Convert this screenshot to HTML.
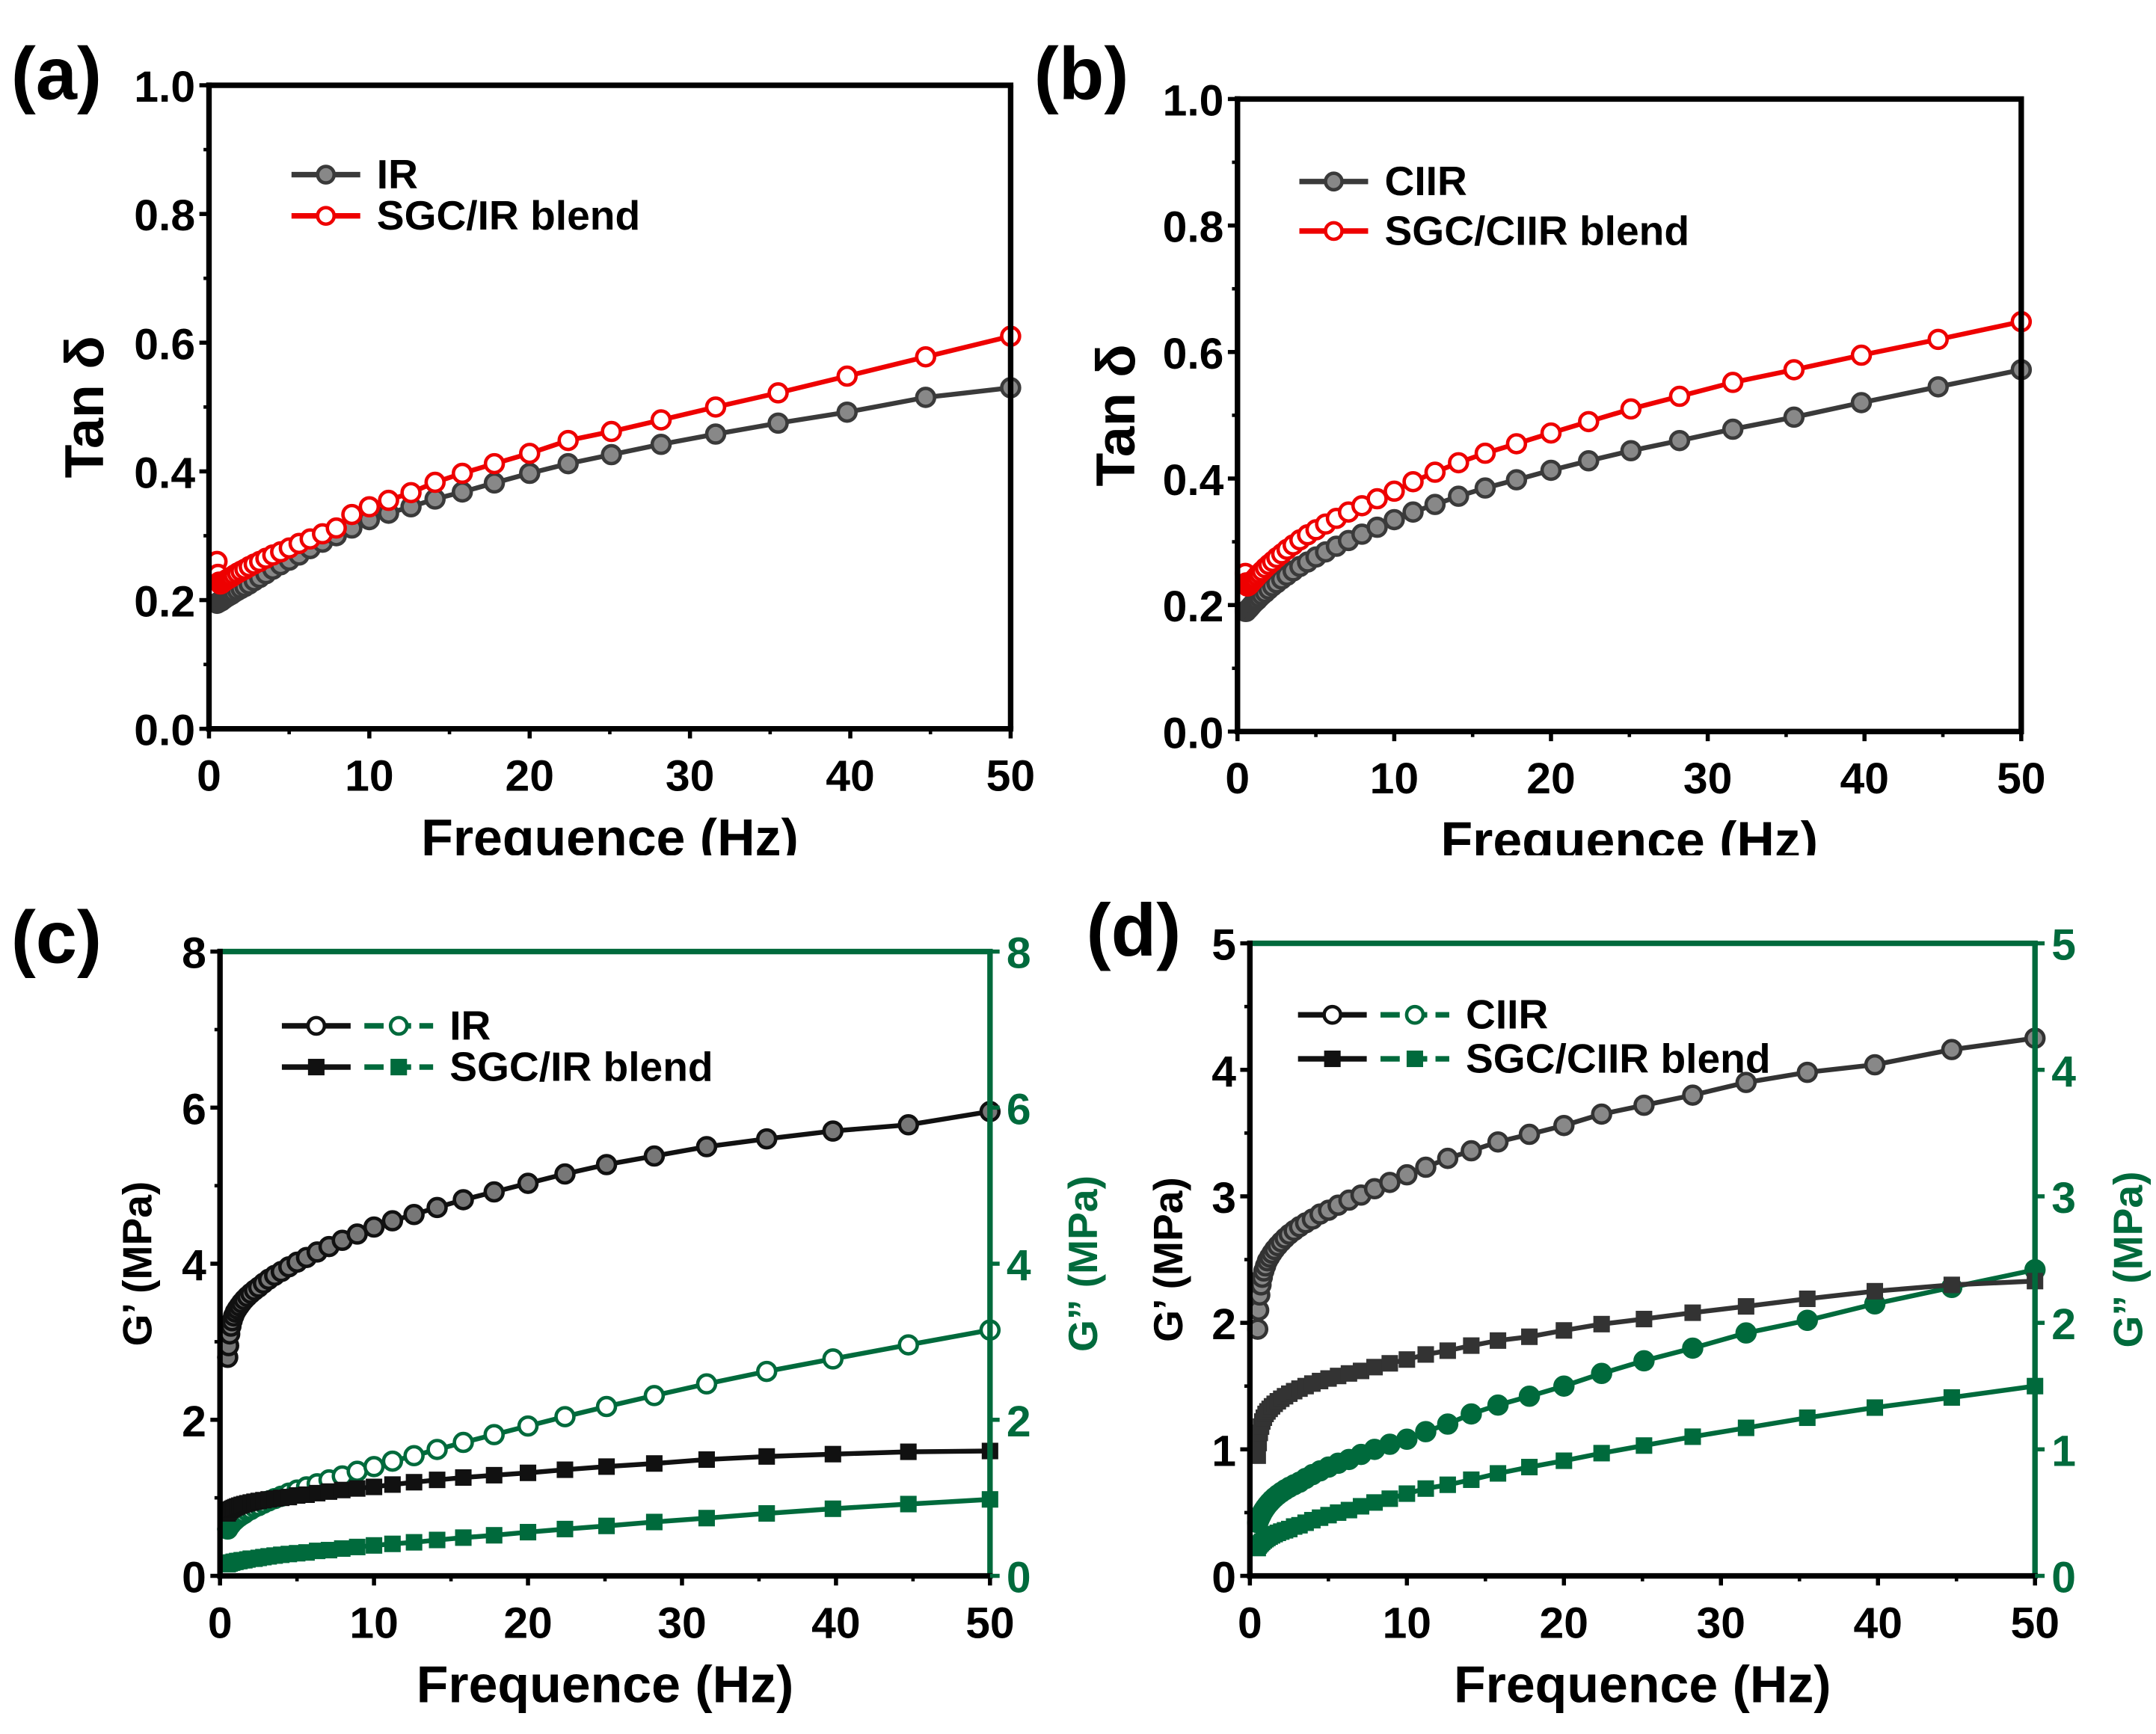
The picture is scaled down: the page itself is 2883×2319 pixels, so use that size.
<!DOCTYPE html>
<html><head><meta charset="utf-8"><style>
html,body{margin:0;padding:0;background:#fff;}
svg{display:block;font-family:"Liberation Sans",Arial,sans-serif;font-weight:bold;}
</style></head><body>
<svg id="fig" width="2883" height="2319" viewBox="0 0 1568 1261" preserveAspectRatio="none" xmlns="http://www.w3.org/2000/svg">
<rect x="0" y="0" width="1568" height="1261" fill="#fff"/>
</svg>
<script>
const freqs=[0.5,0.56,0.63,0.71,0.79,0.89,1,1.12,1.26,1.41,1.58,1.78,2,2.24,2.51,2.82,3.16,3.55,3.98,4.47,5.01,5.62,6.31,7.08,7.94,8.91,10,11.2,12.6,14.1,15.8,17.8,20,22.4,25.1,28.2,31.6,35.5,39.8,44.7,50];
const xTicks=[0,10,20,30,40,50];
const tanTicks=["0.0","0.2","0.4","0.6","0.8","1.0"];
const cTicks=[0,2,4,6,8];
const dTicks=[0,1,2,3,4,5];
const aIR=[0.195,0.196,0.197,0.198,0.199,0.201,0.203,0.205,0.207,0.209,0.212,0.215,0.218,0.221,0.225,0.23,0.235,0.241,0.248,0.255,0.262,0.27,0.28,0.29,0.3,0.312,0.325,0.335,0.345,0.357,0.368,0.382,0.397,0.412,0.426,0.442,0.458,0.475,0.492,0.515,0.53];
const aSGC=[0.26,0.24,0.228,0.225,0.226,0.228,0.23,0.232,0.234,0.236,0.239,0.242,0.245,0.248,0.252,0.256,0.26,0.265,0.27,0.275,0.281,0.288,0.295,0.303,0.312,0.333,0.345,0.355,0.367,0.383,0.397,0.412,0.428,0.448,0.462,0.48,0.5,0.522,0.548,0.578,0.61];
const bCIIR=[0.19,0.19,0.192,0.194,0.196,0.199,0.202,0.205,0.208,0.212,0.216,0.22,0.225,0.23,0.235,0.241,0.247,0.254,0.261,0.268,0.276,0.284,0.293,0.302,0.312,0.323,0.335,0.347,0.359,0.372,0.385,0.398,0.413,0.428,0.444,0.46,0.478,0.497,0.52,0.545,0.572];
const bSGC=[0.25,0.235,0.23,0.231,0.233,0.236,0.239,0.242,0.246,0.25,0.254,0.259,0.264,0.269,0.275,0.281,0.288,0.295,0.303,0.311,0.319,0.328,0.337,0.347,0.357,0.368,0.38,0.395,0.41,0.425,0.44,0.455,0.472,0.49,0.51,0.53,0.552,0.572,0.595,0.62,0.648];
const cGp1=[2.8,2.95,3.1,3.2,3.27,3.33,3.38,3.42,3.46,3.5,3.54,3.58,3.62,3.66,3.7,3.75,3.8,3.85,3.9,3.96,4.02,4.08,4.15,4.22,4.3,4.38,4.47,4.55,4.63,4.72,4.82,4.92,5.03,5.15,5.27,5.38,5.5,5.6,5.7,5.78,5.95];
const cGpp1=[0.6,0.62,0.64,0.66,0.68,0.7,0.72,0.74,0.76,0.78,0.8,0.83,0.85,0.88,0.9,0.93,0.96,0.99,1.02,1.06,1.1,1.14,1.18,1.23,1.28,1.34,1.4,1.47,1.54,1.62,1.71,1.81,1.92,2.04,2.17,2.31,2.46,2.62,2.78,2.96,3.15];
const cGp2=[0.8,0.82,0.84,0.85,0.86,0.87,0.88,0.89,0.9,0.91,0.92,0.93,0.94,0.95,0.96,0.97,0.98,0.99,1.0,1.01,1.03,1.04,1.06,1.08,1.1,1.12,1.14,1.17,1.2,1.23,1.26,1.29,1.32,1.36,1.4,1.44,1.49,1.53,1.56,1.59,1.6];
const cGpp2=[0.15,0.16,0.16,0.17,0.17,0.18,0.18,0.19,0.19,0.2,0.2,0.21,0.22,0.22,0.23,0.24,0.25,0.26,0.27,0.28,0.29,0.3,0.32,0.33,0.35,0.37,0.39,0.41,0.43,0.46,0.49,0.52,0.56,0.6,0.64,0.69,0.74,0.8,0.86,0.92,0.98];
const dGp1=[1.95,2.1,2.22,2.3,2.36,2.41,2.45,2.49,2.52,2.55,2.58,2.61,2.64,2.67,2.7,2.73,2.76,2.79,2.82,2.86,2.89,2.93,2.97,3.01,3.06,3.11,3.17,3.23,3.3,3.36,3.43,3.49,3.56,3.65,3.72,3.8,3.9,3.98,4.04,4.16,4.25];
const dGpp1=[0.42,0.44,0.46,0.48,0.5,0.52,0.54,0.56,0.58,0.6,0.62,0.64,0.66,0.68,0.7,0.72,0.74,0.77,0.8,0.83,0.86,0.89,0.92,0.96,1.0,1.04,1.08,1.14,1.2,1.28,1.35,1.42,1.5,1.6,1.7,1.8,1.92,2.02,2.15,2.28,2.42];
const dGp2=[0.95,1.05,1.13,1.18,1.22,1.25,1.28,1.3,1.32,1.34,1.36,1.38,1.4,1.42,1.44,1.46,1.48,1.5,1.52,1.54,1.56,1.58,1.6,1.62,1.65,1.68,1.71,1.75,1.78,1.82,1.86,1.89,1.94,1.99,2.03,2.08,2.13,2.19,2.25,2.3,2.33];
const dGpp2=[0.22,0.24,0.25,0.26,0.27,0.28,0.29,0.3,0.31,0.32,0.33,0.34,0.35,0.36,0.37,0.39,0.4,0.42,0.44,0.46,0.48,0.5,0.52,0.55,0.58,0.61,0.65,0.69,0.72,0.76,0.81,0.86,0.91,0.97,1.03,1.1,1.17,1.25,1.33,1.41,1.5];

const NS="http://www.w3.org/2000/svg";
const svg=document.getElementById('fig');
function mk(tag,attrs,parent,text){const e=document.createElementNS(NS,tag);for(const k in attrs)e.setAttribute(k,attrs[k]);if(text!==undefined)e.textContent=text;(parent||svg).appendChild(e);return e;}
const GREEN="#006a3c", RED="#ee0000", GRAY="#3a3a3a";

function panel(cfg){
  const g=mk('g',{});
  
  
  const X=v=>cfg.x0+(v-0)/50*(cfg.x1-cfg.x0);
  const Y=v=>cfg.y0-(v-cfg.ymin)/(cfg.ymax-cfg.ymin)*(cfg.y0-cfg.y1);
  cfg.series.forEach(s=>{
    const sg=mk('g',{},g);
    
    
    const pts=freqs.map((f,i)=>X(f).toFixed(1)+','+Y(s.vals[i]).toFixed(1)).join(' ');
    const ln=mk('polyline',{points:pts,fill:'none',stroke:s.color,'stroke-width':3.5,'stroke-linejoin':'round'},sg);
    
    
    freqs.forEach((f,i)=>{
      let m;
      if(s.marker==='sq'){m=mk('rect',{x:X(f)-6,y:Y(s.vals[i])-6,width:12,height:12,fill:s.color},sg);}
      else{m=mk('circle',{cx:X(f),cy:Y(s.vals[i]),r:6.5,fill:s.fill||'#fff',stroke:s.color,'stroke-width':2.5},sg);}
      
      
    });
  });
  const topC=cfg.dual?GREEN:'#000';
  const fr=mk('g',{},g);
  
  
  mk('line',{x1:cfg.x0-2,y1:cfg.y1,x2:cfg.x1+2,y2:cfg.y1,stroke:topC,'stroke-width':4},fr);
  mk('line',{x1:cfg.x1,y1:cfg.y1,x2:cfg.x1,y2:cfg.y0,stroke:cfg.dual?GREEN:'#000','stroke-width':4},fr);
  mk('line',{x1:cfg.x0,y1:cfg.y1-2,x2:cfg.x0,y2:cfg.y0+2,stroke:'#000','stroke-width':4},fr);
  mk('line',{x1:cfg.x0-2,y1:cfg.y0,x2:cfg.x1+2,y2:cfg.y0,stroke:'#000','stroke-width':4},fr);
  xTicks.forEach((t,i)=>{
    mk('line',{x1:X(t),y1:cfg.y0,x2:X(t),y2:cfg.y0+7,stroke:'#000','stroke-width':3},g);
    if(i<xTicks.length-1) mk('line',{x1:X(t+5),y1:cfg.y0,x2:X(t+5),y2:cfg.y0+4,stroke:'#000','stroke-width':2.5},g);
    const tl=mk('text',{x:X(t),y:cfg.y0+45,'text-anchor':'middle','font-size':32},g,String(t));
    
    
  });
  cfg.yTicks.forEach((lab,i)=>{
    const v=parseFloat(lab);
    mk('line',{x1:cfg.x0-7,y1:Y(v),x2:cfg.x0,y2:Y(v),stroke:'#000','stroke-width':3},g);
    const tl=mk('text',{x:cfg.x0-10,y:Y(v)+12,'text-anchor':'end','font-size':32},g,String(lab));
    
    
    if(i<cfg.yTicks.length-1){const mv=(v+parseFloat(cfg.yTicks[i+1]))/2;
      mk('line',{x1:cfg.x0-4,y1:Y(mv),x2:cfg.x0,y2:Y(mv),stroke:'#000','stroke-width':2.5},g);}
    if(cfg.dual){
      mk('line',{x1:cfg.x1,y1:Y(v),x2:cfg.x1+7,y2:Y(v),stroke:GREEN,'stroke-width':3},g);
      const rl=mk('text',{x:cfg.x1+12,y:Y(v)+12,'text-anchor':'start','font-size':32,fill:GREEN},g,String(lab));
      
      
    }
  });
  const xt=mk('text',{x:(cfg.x0+cfg.x1)/2,y:cfg.y0+92,'text-anchor':'middle','font-size':38},g,'Frequence (Hz)');
  
  
  const yc=(cfg.y0+cfg.y1)/2;
  const yt=mk('text',{x:0,y:0,'text-anchor':'middle','font-size':cfg.ylSize,transform:`translate(${cfg.ylx},${yc}) rotate(-90)`},g,cfg.ylabel);
  
  
  if(cfg.dual){
    const y2=mk('text',{x:0,y:0,'text-anchor':'middle','font-size':cfg.ylSize,fill:GREEN,transform:`translate(${cfg.x1+78},${yc}) rotate(-90)`},g,'G\u201D (MPa)');
    
    
  }
  const pl=mk('text',{x:cfg.lx,y:cfg.ly,'font-size':54},g,cfg.label);
  
  
  const lg=mk('g',{},g);
  
  
  cfg.legend.forEach(e=>{
    const le=mk('g',{},lg);
    
    
    let xx=cfg.legX;
    e.sym.forEach(s=>{
      mk('line',{x1:xx,y1:e.y,x2:xx+50,y2:e.y,stroke:s.color,'stroke-width':4,'stroke-dasharray':s.dash||'none'},le);
      if(s.marker==='sq') mk('rect',{x:xx+19,y:e.y-6,width:12,height:12,fill:s.color},le);
      else mk('circle',{cx:xx+25,cy:e.y,r:6,fill:s.fill||'#fff',stroke:s.color,'stroke-width':2.5},le);
      xx+=60;
    });
    mk('text',{x:xx+2,y:e.y+10,'font-size':30},le,e.text);
  });
}

panel({name:'panel-a',label:'(a)',lx:8,ly:72,x0:152,x1:735,y0:530,y1:62,ymin:0,ymax:1,yTicks:tanTicks,ylabel:'Tan \u03B4',ylx:75,ylSize:40,legX:212,
  series:[{name:'ir-tan-delta',vals:aIR,color:GRAY,fill:'#888'},{name:'sgc-ir-tan-delta',vals:aSGC,color:RED,fill:'#fff'}],
  legend:[{y:127,text:'IR',sym:[{color:GRAY,fill:'#888'}]},{y:157,text:'SGC/IR blend',sym:[{color:RED}]}]});
panel({name:'panel-b',label:'(b)',lx:752,ly:72,x0:900,x1:1470,y0:532,y1:72,ymin:0,ymax:1,yTicks:tanTicks,ylabel:'Tan \u03B4',ylx:825,ylSize:40,legX:945,
  series:[{name:'ciir-tan-delta',vals:bCIIR,color:GRAY,fill:'#888'},{name:'sgc-ciir-tan-delta',vals:bSGC,color:RED,fill:'#fff'}],
  legend:[{y:132,text:'CIIR',sym:[{color:GRAY,fill:'#888'}]},{y:168,text:'SGC/CIIR blend',sym:[{color:RED}]}]});
panel({name:'panel-c',label:'(c)',lx:8,ly:700,x0:160,x1:720,y0:1146,y1:692,ymin:0,ymax:8,yTicks:cTicks,ylabel:'G\u2019 (MPa)',ylx:110,ylSize:30,dual:true,legX:205,
  series:[{name:'ir-storage-modulus',vals:cGp1,color:'#111',fill:'#777'},{name:'ir-loss-modulus',vals:cGpp1,color:GREEN,fill:'#fff'},{name:'sgc-ir-storage-modulus',vals:cGp2,color:'#111',marker:'sq'},{name:'sgc-ir-loss-modulus',vals:cGpp2,color:GREEN,marker:'sq'}],
  legend:[{y:746,text:'IR',sym:[{color:'#111'},{color:GREEN,dash:'14 6'}]},{y:776,text:'SGC/IR blend',sym:[{color:'#111',marker:'sq'},{color:GREEN,dash:'14 6',marker:'sq'}]}]});
panel({name:'panel-d',label:'(d)',lx:790,ly:695,x0:909,x1:1480,y0:1146,y1:686,ymin:0,ymax:5,yTicks:dTicks,ylabel:'G\u2019 (MPa)',ylx:860,ylSize:30,dual:true,legX:944,
  series:[{name:'ciir-storage-modulus',vals:dGp1,color:'#333',fill:'#888'},{name:'ciir-loss-modulus',vals:dGpp1,color:GREEN,fill:GREEN},{name:'sgc-ciir-storage-modulus',vals:dGp2,color:'#333',marker:'sq'},{name:'sgc-ciir-loss-modulus',vals:dGpp2,color:GREEN,marker:'sq'}],
  legend:[{y:738,text:'CIIR',sym:[{color:'#111'},{color:GREEN,dash:'14 6'}]},{y:770,text:'SGC/CIIR blend',sym:[{color:'#111',marker:'sq'},{color:GREEN,dash:'14 6',marker:'sq'}]}]});
const cr=mk('rect',{x:0,y:622,width:1568,height:14,fill:'#fff'});


</script>
</body></html>
